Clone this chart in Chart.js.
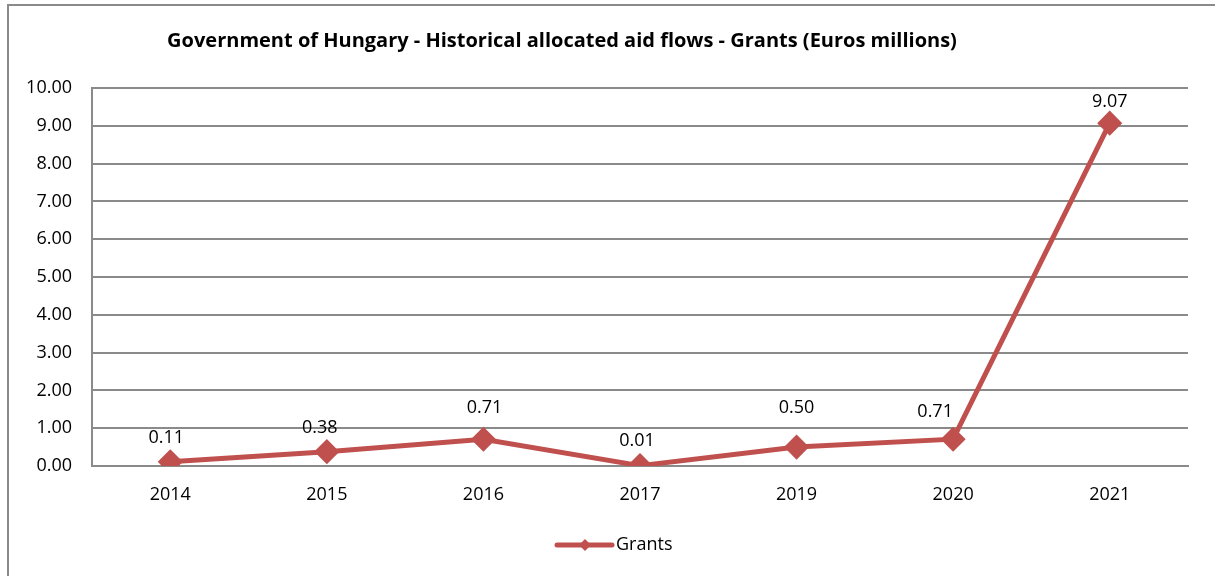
<!DOCTYPE html>
<html>
<head>
<meta charset="utf-8">
<script src="https://cdn.jsdelivr.net/npm/chart.js@4/dist/chart.umd.min.js"></script>
<style>
  html, body { margin: 0; padding: 0; background: #fff; overflow: hidden; }
  #wrap { position: relative; width: 1215px; height: 576px; }
  #frame { position: absolute; left: 7px; top: 4px; width: 1230px; height: 600px; border: 2px solid #8a8a8a; box-sizing: border-box; }
  canvas { position: absolute; left: 0; top: 0; }
</style>
</head>
<body>
<div id="wrap">
  <div id="frame"></div>
  <canvas id="grafico" width="1215" height="576"></canvas>
</div>
<script>
const titulo = 'Government of Hungary - Historical allocated aid flows - Grants (Euros millions)';
const anios = ['2014', '2015', '2016', '2017', '2019', '2020', '2021'];
const grants = [0.11, 0.38, 0.71, 0.01, 0.50, 0.71, 9.07];
const serieNombre = 'Grants';

// where each value label sits relative to its point (px), like Excel put them
const etiquetaDx = [-4, -7, 1, -3, 0, -18, 0];
const etiquetaDy = [-24, -24, -31, -25, -39, -27, -21];

const rojo = '#C0504D';
const fuente = '"Open Sans", "Liberation Sans", sans-serif';

const extras = {
  id: 'extras',
  afterDatasetsDraw(chart) {
    const ctx = chart.ctx;
    const meta = chart.getDatasetMeta(0);
    ctx.save();
    ctx.fillStyle = '#000';
    ctx.font = '18px ' + fuente;
    ctx.textAlign = 'center';
    ctx.textBaseline = 'middle';
    meta.data.forEach((p, i) => {
      ctx.fillText(grants[i].toFixed(2), p.x + etiquetaDx[i], p.y + etiquetaDy[i]);
    });

    // titulo
    ctx.font = 'bold 20px ' + fuente;
    ctx.fillText(titulo, 562, 41);

    // leyenda
    const lx = 557, ly = 545;
    ctx.strokeStyle = rojo;
    ctx.lineWidth = 5;
    ctx.lineCap = 'round';
    ctx.beginPath();
    ctx.moveTo(lx, ly);
    ctx.lineTo(lx + 55, ly);
    ctx.stroke();
    ctx.fillStyle = rojo;
    ctx.beginPath();
    ctx.moveTo(lx + 28, ly - 6);
    ctx.lineTo(lx + 34, ly);
    ctx.lineTo(lx + 28, ly + 6);
    ctx.lineTo(lx + 22, ly);
    ctx.closePath();
    ctx.fill();
    ctx.fillStyle = '#000';
    ctx.textAlign = 'left';
    ctx.font = '18px ' + fuente;
    ctx.fillText(serieNombre, lx + 59, ly);
    ctx.restore();
  }
};

new Chart(document.getElementById('grafico'), {
  type: 'line',
  data: {
    labels: anios,
    datasets: [{
      label: serieNombre,
      data: grants,
      borderColor: rojo,
      backgroundColor: rojo,
      borderWidth: 5,
      pointStyle: 'rectRot',
      pointRadius: 9,
      pointHoverRadius: 9,
      tension: 0
    }]
  },
  options: {
    responsive: false,
    animation: false,
    layout: { padding: { top: 88, right: 27, bottom: 0, left: 0 } },
    plugins: { legend: { display: false }, title: { display: false }, tooltip: { enabled: false } },
    scales: {
      x: {
        offset: true,
        afterFit: s => { s.height = 110; },
        grid: { display: false, drawTicks: false },
        border: { color: '#8a8a8a', width: 2 },
        ticks: { color: '#000', padding: 18, font: { size: 18, family: fuente } }
      },
      y: {
        min: 0,
        max: 10,
        afterFit: s => { s.width = 92; },
        grid: { color: '#8a8a8a', lineWidth: 2, drawTicks: false },
        border: { color: '#8a8a8a', width: 2 },
        ticks: {
          stepSize: 1,
          color: '#000',
          padding: 20,
          font: { size: 18, family: fuente },
          callback: v => v.toFixed(2)
        }
      }
    }
  },
  plugins: [extras]
});
</script>
</body>
</html>
